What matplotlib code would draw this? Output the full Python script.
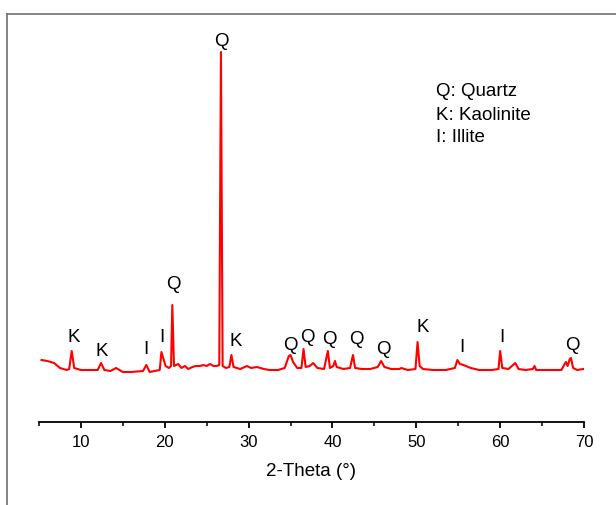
import matplotlib
import matplotlib.pyplot as plt
from matplotlib.lines import Line2D
from matplotlib.ticker import MultipleLocator

matplotlib.use('Agg')
plt.rcParams['font.family'] = ['Liberation Sans', 'DejaVu Sans']

# XRD pattern (2-theta in degrees, intensity in a.u.)
two_theta = [5.3, 6.0, 6.8, 7.5, 8.3, 8.6, 8.9, 9.2, 10.0, 11.0, 12.0, 12.4, 12.8,
             13.5, 14.2, 15.0, 16.0, 17.4, 17.8, 18.2, 19.4, 19.6, 20.1, 20.5, 20.75,
             20.9, 21.1, 21.6, 22.0, 22.4, 22.8, 23.3, 23.7, 24.2, 24.6, 25.0, 25.4,
             25.8, 26.2, 26.5, 26.7, 26.9, 27.3, 27.7, 27.95, 28.2, 29.0, 29.8, 30.3,
             31.0, 31.8, 32.5, 33.5, 34.3, 34.8, 35.0, 35.3, 35.8, 36.3, 36.55, 36.8,
             37.3, 37.7, 38.2, 39.0, 39.45, 39.7, 40.1, 40.3, 40.5, 41.3, 42.1, 42.45,
             42.7, 43.5, 44.5, 45.4, 45.8, 46.2, 47.0, 48.0, 48.2, 49.0, 49.9, 50.15,
             50.4, 50.8, 52.0, 53.5, 54.6, 54.9, 55.2, 55.6, 56.5, 57.5, 59.0, 59.8,
             60.0, 60.25, 61.0, 61.8, 62.2, 63.0, 63.9, 64.1, 64.3, 65.0, 66.0, 67.3,
             67.7, 67.85, 68.05, 68.3, 68.45, 68.7, 69.2, 69.9]
intensity = [620, 610, 590, 540, 520, 530, 710, 540, 520, 520, 520, 590, 520,
             510, 540, 500, 500, 510, 570, 500, 520, 700, 560, 540, 560,
             1170, 560, 580, 540, 560, 530, 550, 560, 560, 570, 560, 580,
             560, 560, 570, 3700, 560, 540, 550, 670, 550, 530, 560, 540,
             550, 530, 520, 520, 540, 660, 670, 600, 540, 540, 730, 550,
             560, 590, 540, 530, 710, 540, 560, 610, 550, 530, 540, 670,
             540, 530, 530, 550, 610, 550, 530, 530, 540, 520, 530, 800,
             560, 530, 520, 520, 540, 620, 580, 570, 540, 520, 520, 530,
             710, 540, 530, 590, 530, 520, 530, 560, 520, 520, 520, 520,
             580, 600, 560, 630, 640, 540, 520, 530]

# phase labels: letter, 2-theta, height
label_text = ['K', 'K', 'I', 'I', 'Q', 'Q', 'K', 'Q', 'Q', 'Q', 'Q', 'Q', 'K', 'I', 'I', 'Q']
label_x = [9.2, 12.5, 17.8, 19.6, 21.0, 26.75, 28.5, 35.0, 37.0, 39.6, 42.9, 46.1,
           50.8, 55.4, 60.2, 68.6]
label_y = [840, 710, 730, 850, 1370, 3800, 800, 760, 840, 830, 830, 730, 950, 750, 840, 760]

legend_lines = ['Q: Quartz', 'K: Kaolinite', 'I: Illite']

fig = plt.figure(figsize=(6.16, 5.05), dpi=100)
ax = fig.add_axes([39 / 616, 1 - 422 / 505, 545 / 616, 408 / 505])
ax.plot(two_theta, intensity, color='#ff0000', linewidth=1.5)

for t, x, y in zip(label_text, label_x, label_y):
    ax.text(x, y, t, ha='center', va='center', fontsize=13.5)

ax.set_xlim(5, 70)
ax.set_ylim(0, 4080)
for s in ['left', 'right', 'top']:
    ax.spines[s].set_visible(False)
ax.spines['bottom'].set_linewidth(1.3)
ax.set_yticks([])
ax.xaxis.set_major_locator(MultipleLocator(10))
ax.xaxis.set_minor_locator(MultipleLocator(5))
ax.tick_params(axis='x', which='major', length=4.5, width=1.3, labelsize=12, pad=5)
ax.tick_params(axis='x', which='minor', length=3, width=1.1)
ax.set_xlabel('2-Theta (°)', fontsize=13.5, labelpad=9)

for i, s in enumerate(legend_lines):
    fig.text(436 / 616, 1 - (92 + 23 * i) / 505, s, ha='left', va='center', fontsize=13.5)

# gray frame on left and top
fig.add_artist(Line2D([7 / 616, 7 / 616], [0, 1 - 14 / 505], color='#707070', linewidth=1.2))
fig.add_artist(Line2D([7 / 616, 1], [1 - 14 / 505, 1 - 14 / 505], color='#707070', linewidth=1.2))

plt.savefig('out.png', dpi=100)
plt.close()
